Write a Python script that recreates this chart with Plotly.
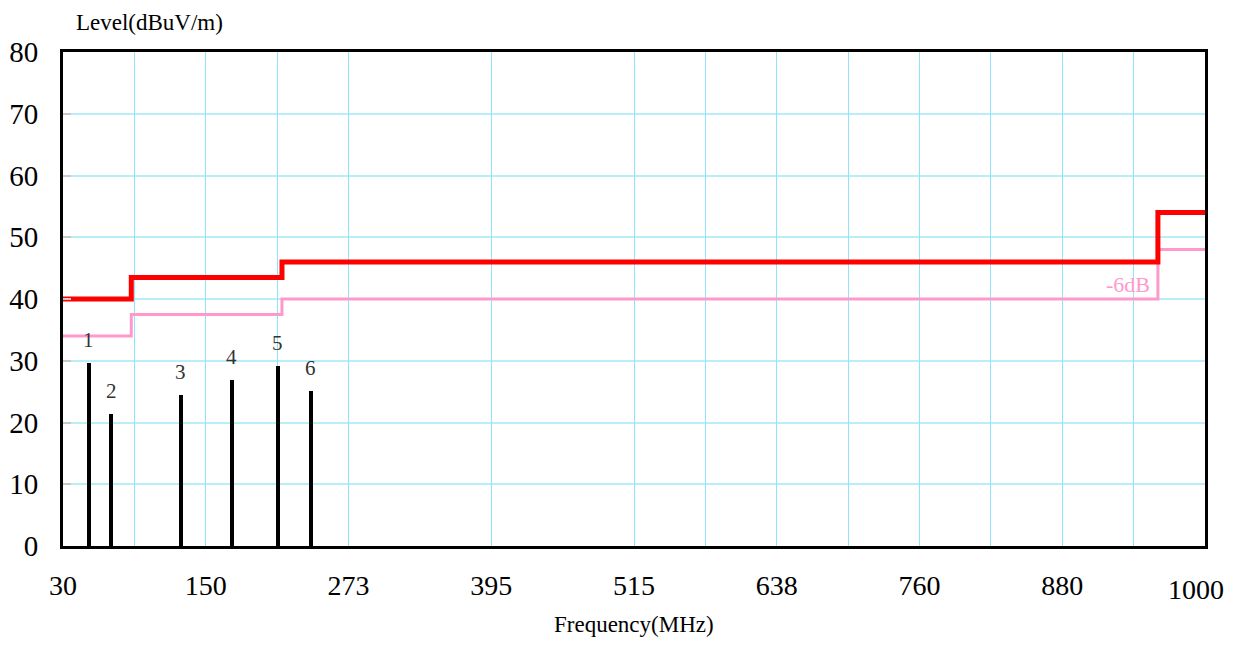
import plotly.graph_objects as go

# Limit lines (step functions)
limit_freq = [30, 88, 88, 216, 216, 960, 960, 1000]
limit_level = [40, 40, 43.5, 43.5, 46, 46, 54, 54]
margin_level = [34, 34, 37.5, 37.5, 40, 40, 48, 48]

# Measured peaks
peak_labels = ["1", "2", "3", "4", "5", "6"]
peak_freq = [52, 70.8, 130, 173.5, 212.6, 240.6]
peak_level = [29.6, 21.4, 24.5, 26.9, 29.15, 25.1]

# Axis ticks
x_tickvals = [30, 151.25, 272.5, 393.75, 515, 636.25, 757.5, 878.75, 1000]
x_ticktext = ["30", "150", "273", "395", "515", "638", "760", "880", "1000"]
x_gridvals = [90.6, 151.25, 211.9, 272.5, 393.75, 515, 575.6, 636.25,
              696.9, 757.5, 818.1, 878.75, 939.4]
y_tickvals = [0, 10, 20, 30, 40, 50, 60, 70, 80]

FONT = "Liberation Serif"

fig = go.Figure()

fig.add_trace(go.Bar(x=peak_freq, y=peak_level, width=3.4,
                     marker=dict(color="black", line=dict(width=0)),
                     showlegend=False, xaxis="x", yaxis="y"))
fig.add_trace(go.Scatter(x=limit_freq, y=margin_level, mode="lines",
                         line=dict(color="#ff99cc", width=3),
                         showlegend=False))
fig.add_trace(go.Scatter(x=limit_freq, y=limit_level, mode="lines",
                         line=dict(color="#ff0000", width=5),
                         showlegend=False))
# invisible trace on the grid axis
fig.add_trace(go.Scatter(x=[30, 1000], y=[0, 0], mode="lines",
                         line=dict(width=0), xaxis="x2", showlegend=False,
                         hoverinfo="skip"))

annotations = []
for lab, f, v in zip(peak_labels, peak_freq, peak_level):
    annotations.append(dict(x=f, y=v, text=lab, showarrow=False, yshift=23,
                            font=dict(family=FONT, size=21, color="#333333")))
annotations.append(dict(x=955, y=40, text="-6dB", showarrow=False,
                        xanchor="right", yanchor="bottom", yshift=0,
                        font=dict(family=FONT, size=22, color="#ff99cc")))
annotations.append(dict(x=1000, y=0, text=x_ticktext[-1], showarrow=False,
                        yanchor="top", yshift=-26, xshift=-9,
                        font=dict(family=FONT, size=28, color="black")))
annotations.append(dict(xref="paper", yref="paper", x=0.0095, y=1.0,
                        yshift=30, xanchor="left", yanchor="middle",
                        text="Level(dBuV/m)", showarrow=False,
                        font=dict(family=FONT, size=23, color="black")))
annotations.append(dict(xref="paper", yref="paper", x=0.5, y=0, yshift=-78,
                        xanchor="center", yanchor="middle",
                        text="Frequency(MHz)", showarrow=False,
                        font=dict(family=FONT, size=23, color="black")))

fig.update_layout(
    width=1219, height=632,
    margin=dict(l=55, r=22, t=44, b=94, autoexpand=False),
    paper_bgcolor="white", plot_bgcolor="rgba(0,0,0,0)",
    bargap=0,
    xaxis=dict(range=[30, 1000], tickvals=x_tickvals,
               ticktext=x_ticktext[:-1] + [""],
               showgrid=False, zeroline=False, automargin=False,
               showline=True, linecolor="black", linewidth=3, mirror=True,
               ticks="", ticklabelstandoff=12,
               tickfont=dict(family=FONT, size=28, color="black")),
    xaxis2=dict(range=[30, 1000], overlaying="x", tickvals=x_gridvals,
                showticklabels=False, showgrid=True, gridcolor="#8fe3fa",
                gridwidth=1, zeroline=False, showline=False, ticks="",
                automargin=False, layer="below traces"),
    yaxis=dict(range=[0, 80], tickvals=y_tickvals, showgrid=True,
               gridcolor="#b8eefa", gridwidth=1.5, zeroline=False,
               automargin=False,
               showline=True, linecolor="black", linewidth=3, mirror=True,
               ticks="inside", ticklen=8, tickcolor="#c8c8c8", tickwidth=1.5,
               ticklabelstandoff=16,
               tickfont=dict(family=FONT, size=29, color="black")),
    annotations=annotations,
)

fig.write_html("out.html")
